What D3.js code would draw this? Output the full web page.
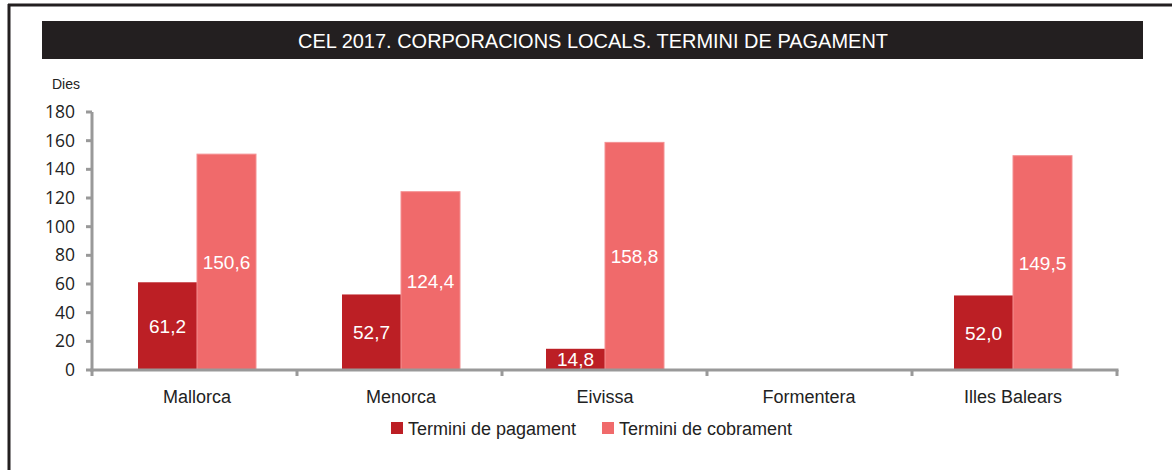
<!DOCTYPE html>
<html>
<head>
<meta charset="utf-8">
<script src="https://cdn.jsdelivr.net/npm/d3@7"></script>
<style>
  body { margin: 0; background: #fff; }
  .narrow { font-family: "Liberation Sans Narrow", "Arial Narrow", "Liberation Sans", sans-serif; }
  .ytick text { font-family: "Open Sans", "Lato", sans-serif; font-size: 17.5px; fill: #222; }
</style>
</head>
<body>
<div id="chart"></div>
<script>
// data
var categories = ["Mallorca", "Menorca", "Eivissa", "Formentera", "Illes Balears"];
var pagament = [61.2, 52.7, 14.8, null, 52.0];
var cobrament = [150.6, 124.4, 158.8, null, 149.5];
var seriesNames = ["Termini de pagament", "Termini de cobrament"];
var yTicks = [0, 20, 40, 60, 80, 100, 120, 140, 160, 180];
var colors = ["#BC1F25", "#F06A6B"];

var W = 1172, H = 470;
var svg = d3.select("#chart").append("svg")
    .attr("width", W)
    .attr("height", H);

// outer frame (left + top lines)
svg.append("line").attr("x1", 9).attr("x2", 9).attr("y1", 4).attr("y2", H)
    .attr("stroke", "#231f20").attr("stroke-width", 3);
svg.append("line").attr("x1", 8).attr("x2", W).attr("y1", 5).attr("y2", 5)
    .attr("stroke", "#231f20").attr("stroke-width", 3);

// title bar
svg.append("rect")
    .attr("x", 42).attr("y", 21)
    .attr("width", 1101).attr("height", 38)
    .attr("fill", "#231f20");
svg.append("text")
    .attr("class", "narrow")
    .attr("x", 593).attr("y", 48)
    .attr("text-anchor", "middle")
    .attr("fill", "#fff")
    .attr("textLength", 590)
    .attr("lengthAdjust", "spacingAndGlyphs")
    .style("font-size", "21px")
    .text("CEL 2017. CORPORACIONS LOCALS. TERMINI DE PAGAMENT");

// scales
var xTick = d3.scaleBand().domain(categories).range([92, 1117]);
var x0 = d3.scaleBand().domain(categories).range([95, 1115]);
var y = d3.scaleLinear().domain([0, 180]).range([370, 112]);
var bw = 59;

// y axis
var yAxis = svg.append("g").attr("class", "ytick");
yAxis.append("line").attr("x1", 92).attr("x2", 92).attr("y1", y(180)).attr("y2", y(0) + 1.5)
    .attr("stroke", "#999").attr("stroke-width", 3);
yAxis.selectAll("line.t").data(yTicks).enter().append("line")
    .attr("class", "t")
    .attr("x1", 86).attr("x2", 92)
    .attr("y1", function(d) { return y(d); })
    .attr("y2", function(d) { return y(d); })
    .attr("stroke", "#999").attr("stroke-width", 3);
yAxis.selectAll("text").data(yTicks).enter().append("text")
    .attr("x", 75)
    .attr("y", function(d) { return y(d); })
    .attr("dy", "0.35em")
    .attr("text-anchor", "end")
    .text(function(d) { return d; });

svg.append("text")
    .attr("class", "narrow")
    .attr("x", 52).attr("y", 89)
    .attr("fill", "#222")
    .style("font-size", "14px")
    .text("Dies");

// bars
var fmt = function(v) { return d3.format(".1f")(v).replace(".", ","); };
[pagament, cobrament].forEach(function(vals, s) {
    var g = svg.append("g");
    var data = categories.map(function(c, i) { return {c: c, v: vals[i]}; })
        .filter(function(d) { return d.v != null; });
    g.selectAll("rect").data(data).enter().append("rect")
        .attr("x", function(d) { return x0(d.c) + x0.bandwidth() / 2 - bw + s * bw; })
        .attr("y", function(d) { return y(d.v); })
        .attr("width", bw)
        .attr("height", function(d) { return y(0) - y(d.v); })
        .attr("fill", colors[s])
        .attr("stroke", s == 1 ? "#F49092" : "none")
        .attr("stroke-width", 1);
    g.selectAll("text").data(data).enter().append("text")
        .attr("class", "narrow")
        .attr("x", function(d) { return x0(d.c) + x0.bandwidth() / 2 - bw / 2 + s * bw; })
        .attr("y", function(d) { return (y(d.v) + y(0)) / 2; })
        .attr("dy", "0.36em")
        .attr("text-anchor", "middle")
        .attr("fill", "#fff")
        .style("font-size", "19px")
        .text(function(d) { return fmt(d.v); });
});

// x axis
var xAxis = svg.append("g");
xAxis.append("line").attr("x1", 90.5).attr("x2", 1118.5).attr("y1", 370).attr("y2", 370)
    .attr("stroke", "#999").attr("stroke-width", 3);
var bounds = categories.map(function(c) { return xTick(c); }).concat([xTick.range()[1]]);
xAxis.selectAll("line.t").data(bounds).enter().append("line")
    .attr("class", "t")
    .attr("x1", function(d) { return d; }).attr("x2", function(d) { return d; })
    .attr("y1", 370).attr("y2", 376)
    .attr("stroke", "#999").attr("stroke-width", 3);
xAxis.selectAll("text").data(categories).enter().append("text")
    .attr("class", "narrow")
    .attr("x", function(d) { return x0(d) + x0.bandwidth() / 2; })
    .attr("y", 403)
    .attr("text-anchor", "middle")
    .attr("fill", "#222")
    .style("font-size", "18px")
    .text(function(d) { return d; });

// legend
var legX = [391, 602];
var leg = svg.append("g");
seriesNames.forEach(function(n, i) {
    leg.append("rect")
        .attr("x", legX[i]).attr("y", 422)
        .attr("width", 12).attr("height", 12)
        .attr("fill", colors[i]);
    leg.append("text")
        .attr("class", "narrow")
        .attr("x", legX[i] + 17).attr("y", 435)
        .attr("fill", "#222")
        .style("font-size", "18px")
        .text(n);
});
</script>
</body>
</html>
